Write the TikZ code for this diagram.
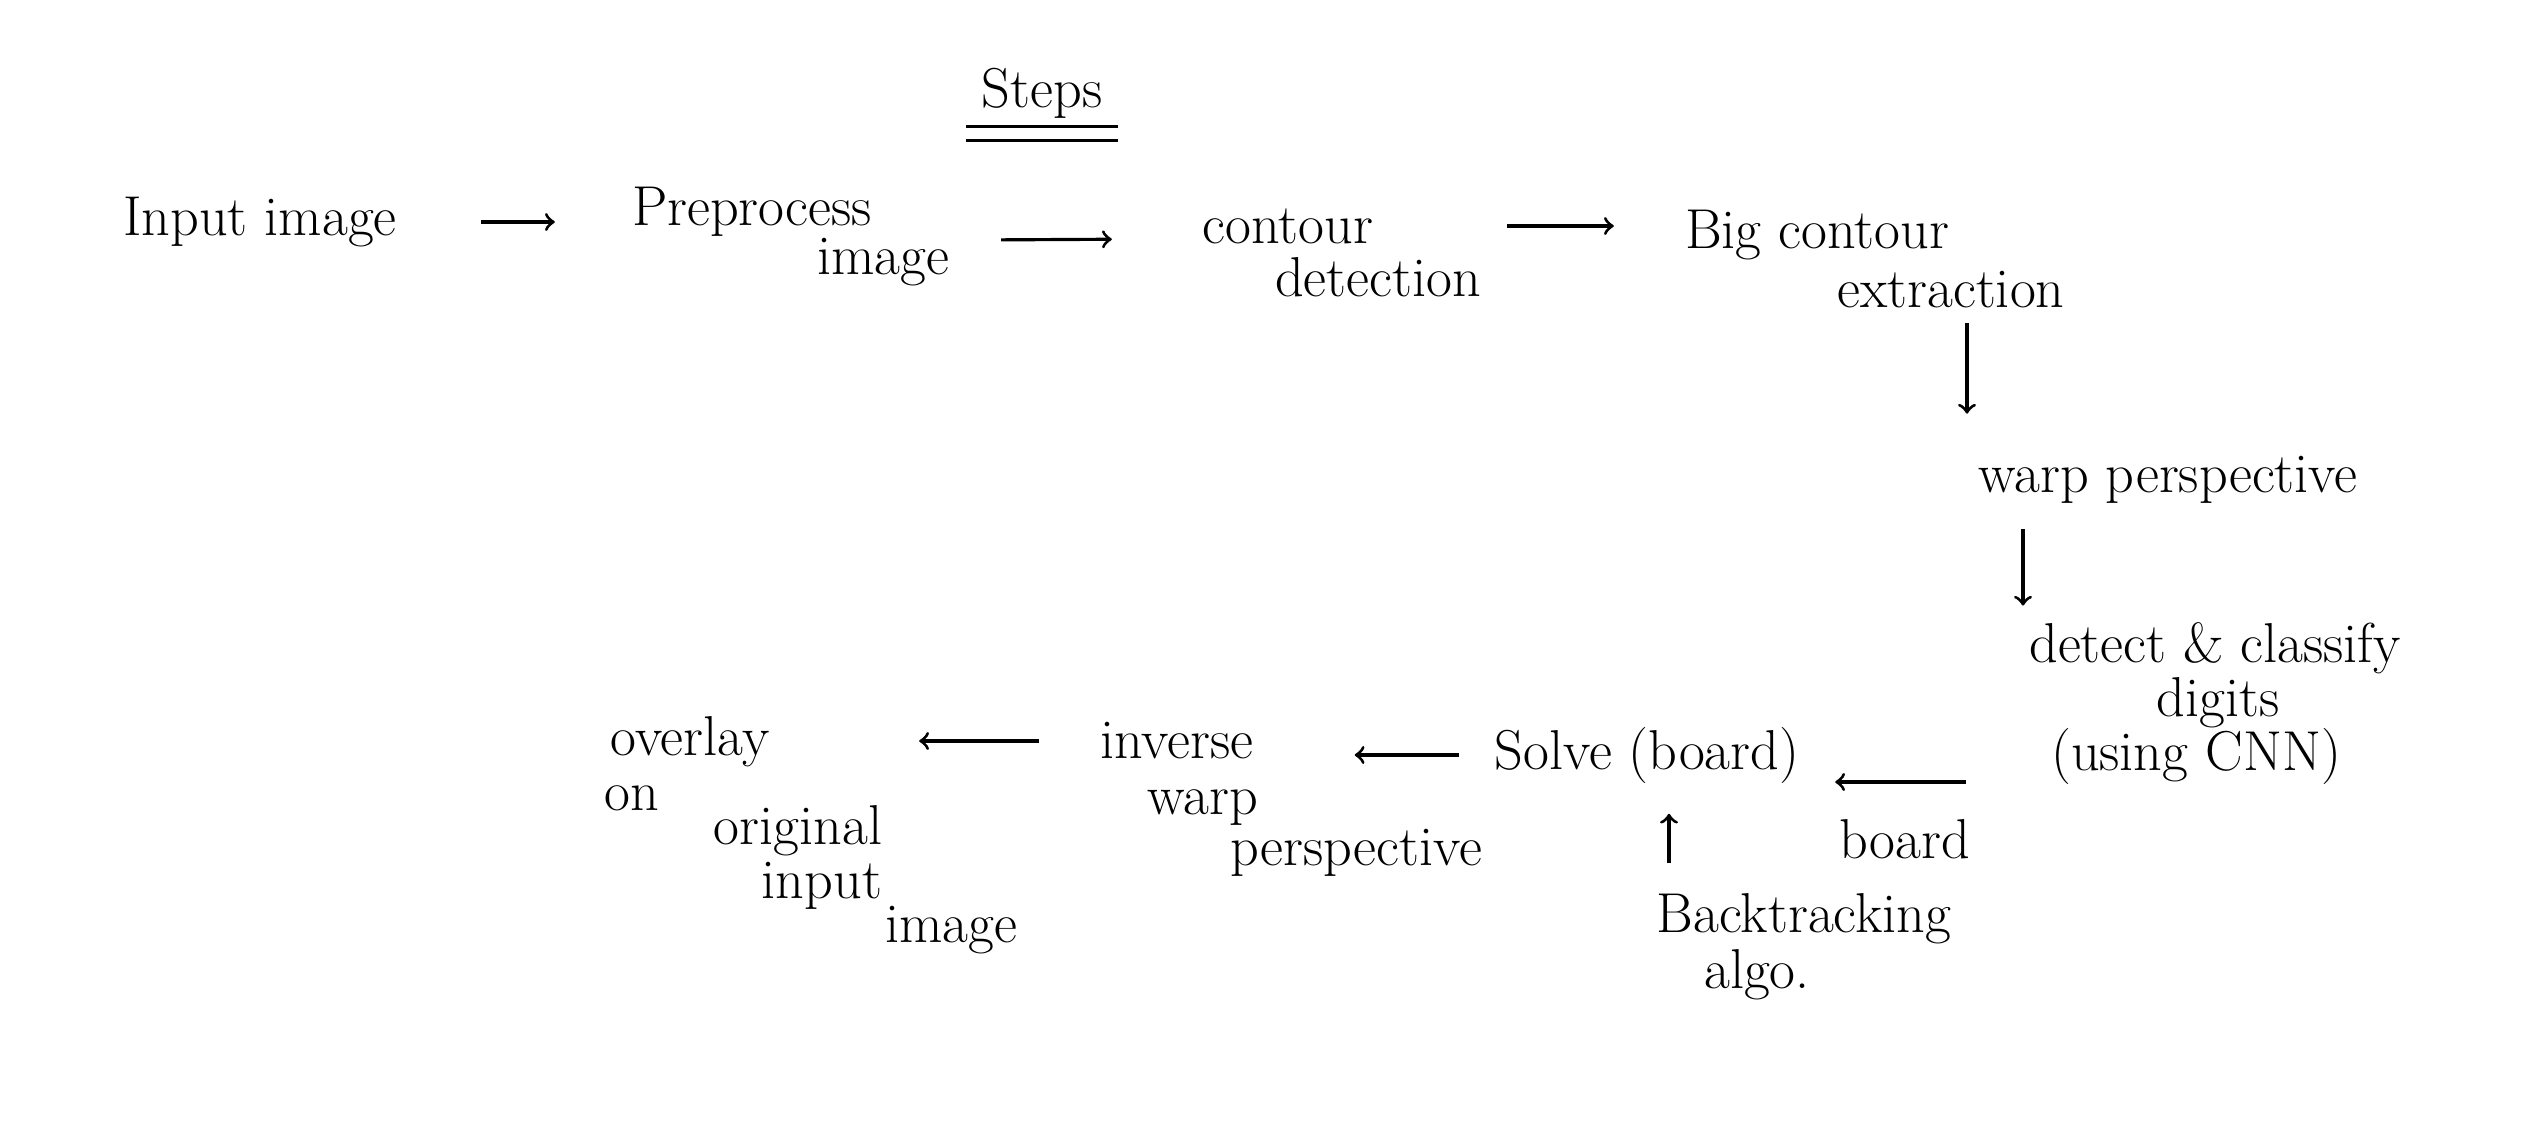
\documentclass[tikz,border=0pt]{standalone}
\usepackage{tikz}
\begin{document}
\begin{tikzpicture}[
    txt/.style={inner sep=0pt, font=\fontsize{16}{18}\selectfont},
    arr/.style={->, line width=0.9pt}
  ]
  \useasboundingbox (0,0) rectangle (25.28,11.28);

  % Title with double underline
  \node[txt, minimum width=1.5cm] (steps) at (10.42, 10.35) {Steps};
  \draw[line width=0.9pt] ([yshift=-0.08cm]steps.south west) -- ([yshift=-0.08cm]steps.south east);
  \draw[line width=0.9pt] ([yshift=-0.22cm]steps.south west) -- ([yshift=-0.22cm]steps.south east);

  % Top row
  \node[txt, minimum width=3.51cm] (input) at (2.60, 9.06) {Input image};
  \node[txt, minimum width=2.63cm] (pre1) at (7.52, 9.16) {Preprocess};
  \node[txt, minimum width=1.85cm] (pre2) at (8.83, 8.66) {image};
  \node[txt, minimum width=2.61cm] (cont1) at (12.88, 9.02) {contour};
  \node[txt, minimum width=2.58cm] (cont2) at (13.78, 8.51) {detection};
  \node[txt, minimum width=3.39cm] (big1) at (18.17, 8.93) {Big contour};
  \node[txt, minimum width=3.06cm] (big2) at (19.51, 8.38) {extraction};

  % Right column
  \node[txt, minimum width=4.51cm] (warp) at (21.68, 6.48) {warp perspective};
  \node[txt, minimum width=4.39cm] (det1) at (22.15, 4.80) {detect \& classify};
  \node[txt, minimum width=1.74cm] (det2) at (22.18, 4.25) {digits};
  \node[txt, minimum width=3.79cm] (det3) at (21.96, 3.72) {(using CNN)};

  % Bottom row
  \node[txt, minimum width=3.11cm] (solve) at (16.47, 3.73) {Solve (board)};
  \node[txt, minimum width=3.51cm] (back1) at (18.04, 2.09) {Backtracking};
  \node[txt, minimum width=1.13cm] (back2) at (17.57, 1.53) {algo.};
  \node[txt, minimum width=2.10cm] (inv1) at (11.77, 3.87) {inverse};
  \node[txt, minimum width=1.40cm] (inv2) at (12.03, 3.20) {warp};
  \node[txt, minimum width=3.01cm] (inv3) at (13.56, 2.75) {perspective};
  \node[txt, minimum width=2.05cm] (ov1) at (6.90, 3.86) {overlay};
  \node[txt, minimum width=0.56cm] (ov2) at (6.32, 3.30) {on};
  \node[txt, minimum width=2.10cm] (ov3) at (7.98, 2.97) {original};
  \node[txt, minimum width=1.29cm] (ov4) at (8.22, 2.42) {input};
  \node[txt, minimum width=1.35cm] (ov5) at (9.51, 1.98) {image};

  % Arrows
  \draw[arr, shorten <=0.45cm, shorten >=0.65cm] (input.east) -- (input.east -| pre1.west);
  \draw[arr, shorten <=0.25cm, shorten >=0.45cm] ([yshift=0.22cm]pre2.east) -- ([yshift=-0.13cm]cont1.west);
  \draw[arr, shorten <=0.88cm, shorten >=0.33cm] (cont1.east) -- (cont1.east -| big1.west);
  \draw[arr, shorten <=0.14cm, shorten >=0.42cm] ([xshift=0.16cm]big2.south) -- ([xshift=0.16cm]big2.south |- warp.north);
  \draw[arr, shorten <=0.25cm, shorten >=0.16cm] ([xshift=-1.92cm]det1.north |- warp.south) -- ([xshift=-1.92cm]det1.north);
  \draw[arr, shorten <=0.40cm, shorten >=0.32cm] ([yshift=-0.26cm]det3.west) -- ([yshift=-0.26cm]det3.west -| solve.east)
    node[txt, midway, below=0.36cm] (board) {board};
  \draw[arr, shorten <=0.3cm, shorten >=0.3cm] ([xshift=-1.35cm]back1.north) -- ([xshift=-1.35cm]back1.north |- solve.south);
  \draw[arr, shorten <=0.32cm, shorten >=0.72cm] (solve.west) -- (solve.west -| inv1.east);
  \draw[arr, shorten <=0.32cm, shorten >=1.26cm] (inv1.west) -- (inv1.west -| ov1.east);
\end{tikzpicture}
\end{document}
